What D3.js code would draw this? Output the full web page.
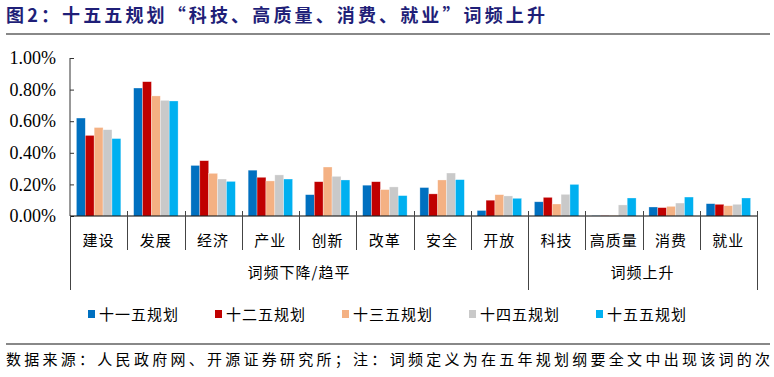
<!DOCTYPE html>
<html>
<head>
<meta charset="utf-8">
<script src="https://cdn.jsdelivr.net/npm/d3@7"></script>
<style>
  body { margin: 0; background: #fff; }
  svg { display: block; }
</style>
</head>
<body>
<div id="chart"></div>
<script>
// values are percentages (0.62 means 0.62%)
var categories = ['建设', '发展', '经济', '产业', '创新', '改革', '安全', '开放', '科技', '高质量', '消费', '就业'];
var seriesNames = ['十一五规划', '十二五规划', '十三五规划', '十四五规划', '十五五规划'];
var plan11 = [0.62, 0.81, 0.32, 0.29, 0.135, 0.195, 0.18, 0.035, 0.09, 0.002, 0.057, 0.078];
var plan12 = [0.51, 0.85, 0.35, 0.245, 0.217, 0.217, 0.14, 0.10, 0.118, 0.002, 0.053, 0.074];
var plan13 = [0.56, 0.76, 0.27, 0.222, 0.31, 0.167, 0.228, 0.135, 0.076, 0.003, 0.061, 0.065];
var plan14 = [0.546, 0.732, 0.234, 0.26, 0.251, 0.184, 0.272, 0.127, 0.137, 0.07, 0.082, 0.074];
var plan15 = [0.49, 0.728, 0.219, 0.234, 0.228, 0.129, 0.23, 0.112, 0.20, 0.114, 0.12, 0.114];
var yTicks = [0, 0.2, 0.4, 0.6, 0.8, 1.0];
var groups = [{name: '词频下降/趋平', from: 0, to: 8}, {name: '词频上升', from: 8, to: 12}];
var colors = ['#0070C0', '#C00000', '#F4B183', '#C9C9C9', '#00B0F0'];

(function() {
  var series = [plan11, plan12, plan13, plan14, plan15];
  var W = 774, H = 377;
  var mLeft = 70, mRight = 757, mTop = 58, mBottom = 216;
  var serif = '"Liberation Serif", "Times New Roman", serif';
  var cjk = '"Noto Sans CJK SC", sans-serif';

  var svg = d3.select('#chart').append('svg').attr('width', W).attr('height', H);

  // title
  svg.append('text')
    .attr('x', 6).attr('y', 22)
    .attr('fill', '#1F1F78')
    .style('font-family', cjk).style('font-weight', 'bold').style('font-size', '18px')
    .attr('textLength', 539).attr('lengthAdjust', 'spacing')
    .text('图2：十五五规划“科技、高质量、消费、就业”词频上升');
  svg.append('line').attr('x1', 6).attr('x2', 770).attr('y1', 34).attr('y2', 34)
    .attr('stroke', '#888').attr('stroke-width', 2);

  var x = d3.scaleBand().domain(categories).range([mLeft, mRight]);
  var xi = d3.scaleBand().domain(d3.range(seriesNames.length)).range([0, x.bandwidth()]).paddingOuter(0.72);
  var y = d3.scaleLinear().domain([0, 1]).range([mBottom, mTop]);

  // bars (thin light outline like the original)
  series.forEach(function(vals, s) {
    svg.append('g').selectAll('rect')
      .data(vals)
      .enter().append('rect')
        .attr('x', function(d, i) { return x(categories[i]) + xi(s); })
        .attr('width', xi.bandwidth())
        .attr('y', function(d) { return y(d); })
        .attr('height', function(d) { return mBottom - y(d); })
        .attr('fill', colors[s])
        .attr('stroke', 'rgba(255,255,255,0.5)').attr('stroke-width', 0.6);
  });

  // y axis
  var yAxis = d3.axisLeft(y).tickValues(yTicks).tickSize(-4).tickPadding(14)
    .tickFormat(function(d) { return d3.format('.2f')(d) + '%'; });
  var gy = svg.append('g').attr('transform', 'translate(' + mLeft + ',0)').call(yAxis)
    .attr('font-family', serif).attr('font-size', 18);
  gy.select('.domain').attr('stroke', '#333').attr('d', 'M0,' + mTop + 'V' + mBottom);
  gy.selectAll('.tick line').attr('stroke', '#333');
  gy.selectAll('.tick text').attr('fill', '#000');

  // x axis line
  svg.append('line').attr('x1', mLeft).attr('x2', mRight).attr('y1', mBottom).attr('y2', mBottom)
    .attr('stroke', '#000').attr('stroke-width', 1.2);

  // category separators
  d3.range(categories.length + 1).forEach(function(i) {
    var xx = i < categories.length ? x(categories[i]) : mRight;
    var isGroupEdge = groups.some(function(g) { return g.from === i || g.to === i; });
    svg.append('line')
      .attr('x1', Math.round(xx) + 0.5).attr('x2', Math.round(xx) + 0.5)
      .attr('y1', i === 0 ? mBottom : mBottom - 5).attr('y2', isGroupEdge ? 290 : 250)
      .attr('stroke', '#444').attr('stroke-width', 1);
  });

  // category labels
  svg.append('g').selectAll('text')
    .data(categories)
    .enter().append('text')
      .attr('x', function(d) { return x(d) + x.bandwidth() / 2; })
      .attr('y', 246)
      .attr('text-anchor', 'middle')
      .style('font-family', cjk).style('font-size', '15px').style('letter-spacing', '1px')
      .text(function(d) { return d; });

  // group labels
  svg.append('g').selectAll('text')
    .data(groups)
    .enter().append('text')
      .attr('x', function(g) {
        var x0 = x(categories[g.from]);
        var x1 = g.to < categories.length ? x(categories[g.to]) : mRight;
        return (x0 + x1) / 2;
      })
      .attr('y', 278)
      .attr('text-anchor', 'middle')
      .style('font-family', cjk).style('font-size', '15px').style('letter-spacing', '1px')
      .text(function(g) { return g.name; });

  // legend
  var legend = svg.append('g').selectAll('g')
    .data(seriesNames)
    .enter().append('g')
      .attr('transform', function(d, i) { return 'translate(' + (88 + i * 127) + ',314)'; });
  legend.append('rect').attr('x', 0).attr('y', -4).attr('width', 7).attr('height', 8)
    .attr('fill', function(d, i) { return colors[i]; });
  legend.append('text').attr('x', 11).attr('y', 6)
    .style('font-family', cjk).style('font-size', '15px').style('letter-spacing', '1px')
    .text(function(d) { return d; });

  // source
  svg.append('line').attr('x1', 6).attr('x2', 770).attr('y1', 344).attr('y2', 344)
    .attr('stroke', '#888').attr('stroke-width', 2);
  svg.append('text')
    .attr('x', 6).attr('y', 365)
    .style('font-family', cjk).style('font-size', '15px')
    .attr('textLength', 764).attr('lengthAdjust', 'spacing')
    .text('数据来源：人民政府网、开源证券研究所；注：词频定义为在五年规划纲要全文中出现该词的次');
})();
</script>
</body>
</html>
